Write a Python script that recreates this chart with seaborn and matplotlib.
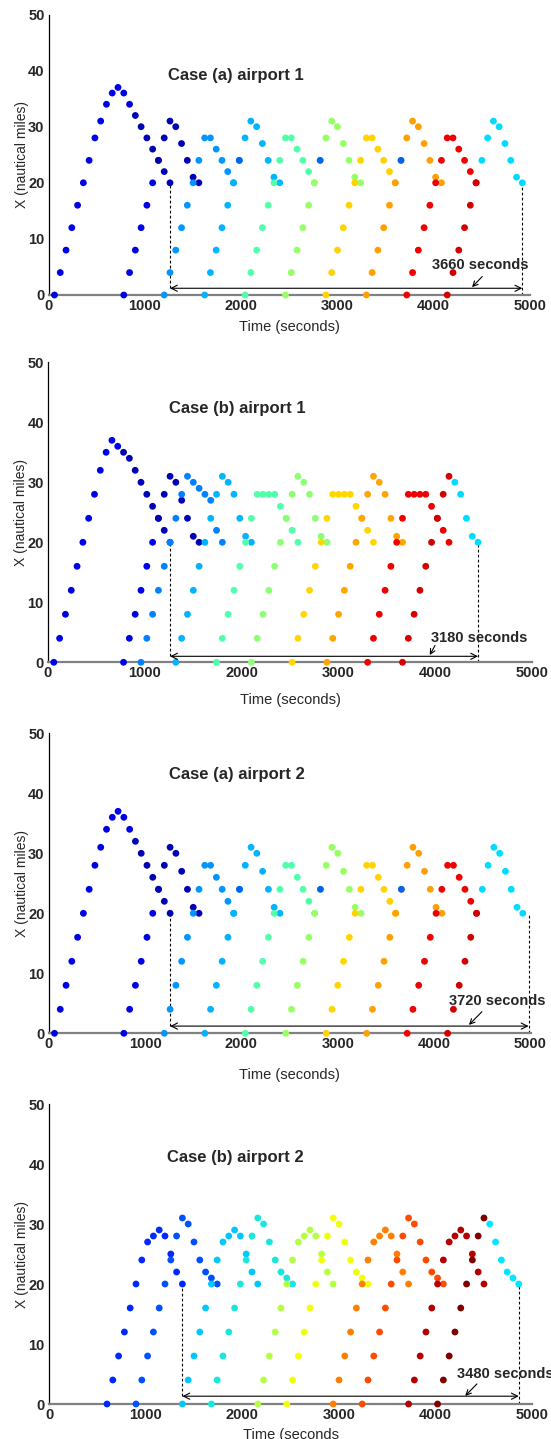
import pandas as pd
import matplotlib
matplotlib.use('Agg')
import matplotlib.pyplot as plt
import seaborn as sns

STEP = 60  # every aircraft position is logged once a minute

# ---- Case (a) airport 1: one entry per aircraft track (start time in s, then X every 60 s) ----
a1_start = [60, 900, 780, 1140, 1200, 1620, 1980, 2040, 2460, 2820, 2880, 3300, 3660, 3720, 4140, 4500]
a1_color = ['#0000e6', '#0000b4', '#0000e6', '#0000b4', '#0096ff', '#00b4ff', '#0064f0', '#50ffaa',
            '#96ff64', '#0064f0', '#ffd200', '#ffa000', '#0064f0', '#f00000', '#d20000', '#00dcff']
a1_x = [
    [0, 4, 8, 12, 16, 20, 24, 28, 31, 34, 36, 37, 36, 34],
    [32, 30, 28, 26, 24, 22, 20],
    [0, 4, 8, 12, 16, 20],
    [24, 28, 31, 30, 27, 24, 21, 20],
    [0, 4, 8, 12, 16, 20, 24, 28, 28, 26, 24, 22, 20],
    [0, 4, 8, 12, 16, 20, 24, 28, 31, 30, 27, 24, 21, 20],
    [24],
    [0, 4, 8, 12, 16, 20, 24, 28, 28, 26, 24, 22, 20],
    [0, 4, 8, 12, 16, 20, 24, 28, 31, 30, 27, 24, 21, 20],
    [24],
    [0, 4, 8, 12, 16, 20, 24, 28, 28, 26, 24, 22, 20],
    [0, 4, 8, 12, 16, 20, 24, 28, 31, 30, 27, 24, 21, 20],
    [24],
    [0, 4, 8, 12, 16, 20, 24, 28, 28, 26, 24, 22, 20],
    [0, 4, 8, 12, 16, 20],
    [24, 28, 31, 30, 27, 24, 21, 20],
]

# ---- Case (b) airport 1 ----
b1_start = [60, 780, 780, 1140, 960, 1320, 1740, 2100, 2520, 2880, 3300, 3660, 4200]
b1_color = ['#0000e6', '#0000b4', '#0000e6', '#0000b4', '#0082ff', '#00b4ff', '#50ffaa',
            '#8cff73', '#ffd700', '#ffa500', '#f00000', '#d20000', '#00dcff']
b1_x = [
    [0, 4, 8, 12, 16, 20, 24, 28, 32, 35, 37, 36],
    [35, 34, 32, 30, 28, 26, 24, 22, 20],
    [0, 4, 8, 12, 16, 20],
    [24, 28, 31, 30, 27, 24, 21, 20],
    [0, 4, 8, 12, 16, 20, 24, 28, 31, 30, 29, 28, 27, 22, 20],
    [0, 4, 8, 12, 16, 20, 24, 28, 31, 30, 28, 24, 21, 20],
    [0, 4, 8, 12, 16, 20, 24, 28, 28, 28, 28, 26, 24, 22, 20],
    [0, 4, 8, 12, 16, 20, 24, 28, 31, 30, 28, 24, 21, 20],
    [0, 4, 8, 12, 16, 20, 24, 28, 28, 28, 28, 26, 24, 22, 20],
    [0, 4, 8, 12, 16, 20, 24, 28, 31, 30, 28, 24, 21, 20],
    [0, 4, 8, 12, 16, 20, 24, 28, 28, 28, 28, 26, 24, 22, 20],
    [0, 4, 8, 12, 16, 20, 24, 28, 31],
    [30, 28, 24, 21, 20],
]

# ---- Case (a) airport 2: reads point for point the same as airport 1 ----
a2_start = list(a1_start)
a2_color = list(a1_color)
a2_x = [list(v) for v in a1_x]

# ---- Case (b) airport 2 ----
b2_start = [600, 900, 1380, 1680, 2160, 2460, 2940, 3240, 3720, 4020, 4560]
b2_color = ['#0028ff', '#0050ff', '#00c8ff', '#19e6dc', '#b4ff46', '#f0ff0a',
            '#ff8000', '#ff4b00', '#b40000', '#800000', '#00e6ff']
b2_x = [
    [0, 4, 8, 12, 16, 20, 24, 27, 28, 29, 28, 25, 22, 20],
    [0, 4, 8, 12, 16, 20, 24, 28, 31, 30, 27, 24, 22, 21, 20],
    [0, 4, 8, 12, 16, 20, 24, 27, 28, 29, 28, 25, 22, 20],
    [0, 4, 8, 12, 16, 20, 24, 28, 31, 30, 27, 24, 22, 21, 20],
    [0, 4, 8, 12, 16, 20, 24, 27, 28, 29, 28, 25, 22, 20],
    [0, 4, 8, 12, 16, 20, 24, 28, 31, 30, 27, 24, 22, 21, 20],
    [0, 4, 8, 12, 16, 20, 24, 27, 28, 29, 28, 25, 22, 20],
    [0, 4, 8, 12, 16, 20, 24, 28, 31, 30, 27, 24, 22, 21, 20],
    [0, 4, 8, 12, 16, 20, 24, 27, 28, 29, 28, 25, 22, 20],
    [0, 4, 8, 12, 16, 20, 24, 28, 31],
    [30, 27, 24, 22, 21, 20],
]

titles = ['Case (a) airport 1', 'Case (b) airport 1', 'Case (a) airport 2', 'Case (b) airport 2']
spans = [3660, 3180, 3720, 3480]
span_start = [1260, 1260, 1260, 1380]
xlabels = ['Time (seconds)', 'Time (seconds)', 'Time (seconds)', 'Time (seconds']


def tracks_frame(starts, xs, colors):
    rows = []
    for s, xv, c in zip(starts, xs, colors):
        for i, v in enumerate(xv):
            rows.append({'t': s + STEP * i, 'x': v, 'c': c})
    return pd.DataFrame(rows)


frames = [tracks_frame(a1_start, a1_x, a1_color),
          tracks_frame(b1_start, b1_x, b1_color),
          tracks_frame(a2_start, a2_x, a2_color),
          tracks_frame(b2_start, b2_x, b2_color)]

sns.set_style('white')
plt.rcParams['font.family'] = ['Liberation Sans', 'DejaVu Sans']

W, H = 551, 1439
fig = plt.figure(figsize=(W / 100, H / 100), dpi=100)

# axes boxes in pixels: left, right, top(50), bottom(0)
boxes = [(48.7, 530.0, 14.5, 295.0),
         (48.0, 532.3, 362.3, 662.3),
         (48.7, 530.5, 733.3, 1033.3),
         (49.0, 532.3, 1104.0, 1404.0)]
title_pos = [(1235, 38.4), (1250, 41.5), (1250, 42.4), (1225, 40.3)]
arrow_y = [1.2, 1.0, 1.2, 1.3]
label_pos = [(4480, 4.7, 'center'), (4450, 3.3, 'center'), (4650, 4.75, 'center'), (4225, 4.4, 'left')]
pointer = [((4504, 3.3), (4398, 1.4)), ((3996, 2.8), (3941, 1.2)),
           ((4496, 3.6), (4361, 1.4)), ((4427, 3.35), (4306, 1.35))]
xlab_off = [25, 31, 35, 24]

for i, df in enumerate(frames):
    x0, x1, yt, yb = boxes[i]
    ax = fig.add_axes([x0 / W, (H - yb) / H, (x1 - x0) / W, (yb - yt) / H])
    pal = {c: c for c in df['c'].unique()}
    sns.scatterplot(data=df, x='t', y='x', hue='c', palette=pal, s=24, linewidth=0,
                    legend=False, ax=ax, zorder=3)
    ax.collections[-1].set_clip_on(False)

    ax.set_xlim(0, 5000)
    ax.set_ylim(0, 50)
    ax.set_xticks(range(0, 5001, 1000))
    ax.set_yticks(range(0, 51, 10))
    ax.tick_params(direction='in', length=4, width=0.8, labelsize=10.5, pad=3)
    for lab in ax.get_xticklabels() + ax.get_yticklabels():
        lab.set_fontweight('bold')
    sns.despine(ax=ax)
    ax.spines['left'].set_linewidth(0.9)
    ax.spines['left'].set_color('black')
    ax.spines['bottom'].set_color('#808080')
    ax.spines['bottom'].set_linewidth(1.6)

    ax.set_xlabel(xlabels[i], fontsize=10.5)
    ax.xaxis.set_label_coords(0.5, -xlab_off[i] / (yb - yt))
    ax.set_ylabel('X (nautical miles)', fontsize=10)
    ax.yaxis.set_label_coords(-0.041, 0.5)

    tx, ty = title_pos[i]
    ax.text(tx, ty, titles[i], fontsize=12, fontweight='bold', ha='left', va='baseline')

    # interval marker: dotted drops, double arrow and its label
    t0 = span_start[i]
    t1 = t0 + spans[i]
    ay = arrow_y[i]
    ax.plot([t0, t0], [ay, 20], ls=(0, (2.5, 2)), color='black', lw=0.8, zorder=2)
    ax.plot([t1, t1], [0, 20], ls=(0, (2.5, 2)), color='black', lw=0.8, zorder=2)
    ax.annotate('', xy=(t1, ay), xytext=(t0, ay),
                arrowprops=dict(arrowstyle='<->', color='black', lw=0.8,
                                shrinkA=0, shrinkB=0, mutation_scale=11))
    lx, ly, ha = label_pos[i]
    # the last label runs past the right edge, as in the source figure
    ax.text(lx, ly, f'{spans[i]} seconds', fontsize=10.5, fontweight='bold',
            ha=ha, va='baseline', clip_on=False)
    (px0, py0), (px1, py1) = pointer[i]
    ax.annotate('', xy=(px1, py1), xytext=(px0, py0),
                arrowprops=dict(arrowstyle='->', color='black', lw=0.8,
                                shrinkA=0, shrinkB=0, mutation_scale=9))

fig.savefig('out.png', dpi=100)
